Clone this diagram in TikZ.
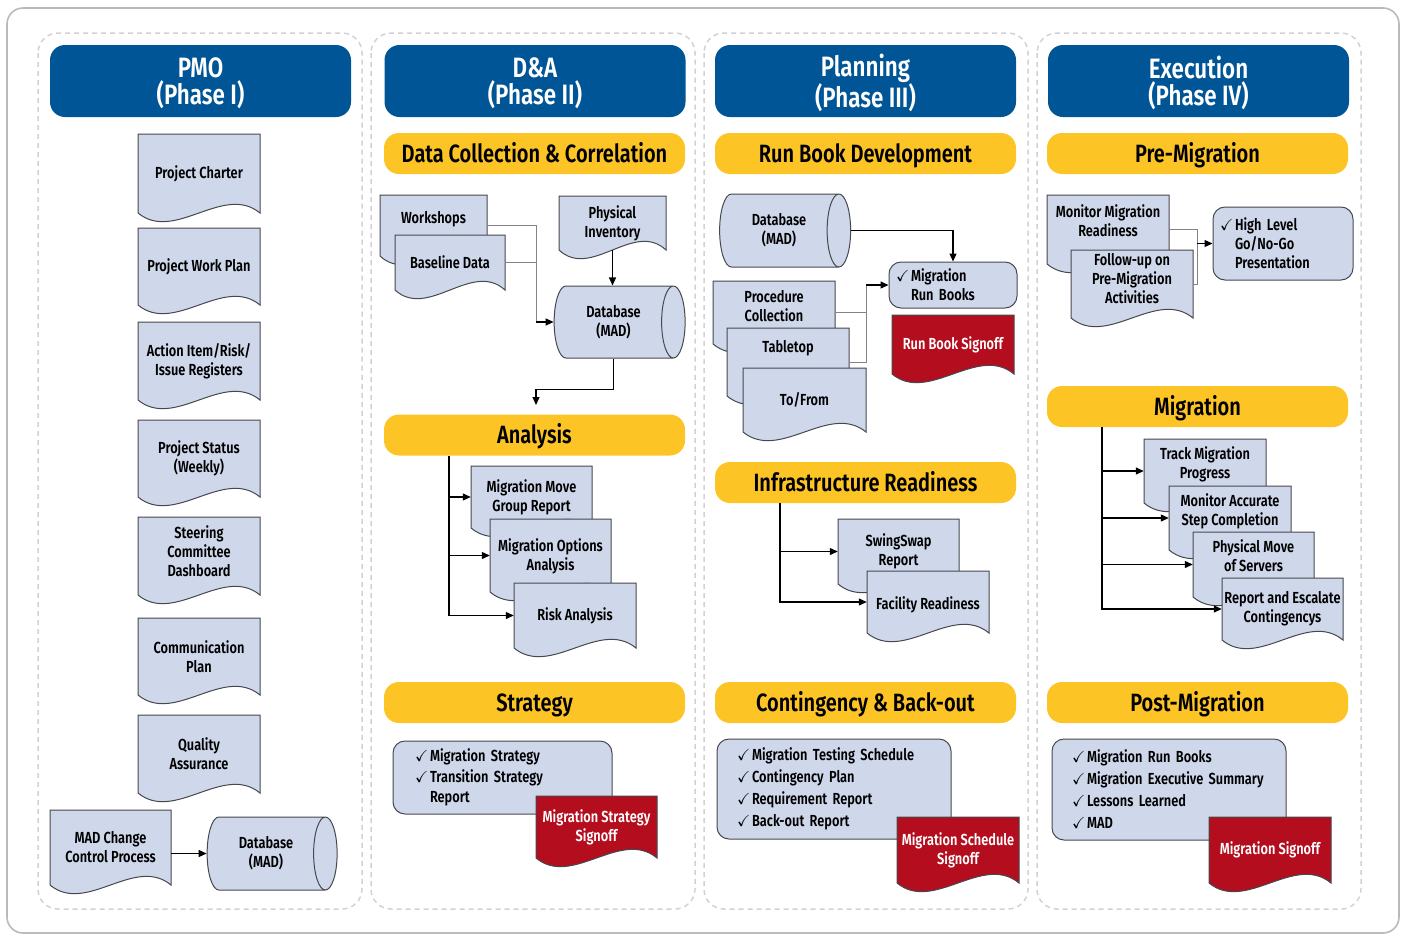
\documentclass[tikz,border=0pt]{standalone}
\usepackage{amssymb}
\usepackage{fontspec}
\setmainfont{Fira Sans SemiBold}[FakeStretch=0.8]
\usetikzlibrary{shapes.geometric, arrows.meta, positioning}

\definecolor{pmoblue}{RGB}{0,85,150}
\definecolor{baryellow}{RGB}{253,196,38}
\definecolor{docfill}{RGB}{207,216,234}
\definecolor{docline}{RGB}{70,72,80}
\definecolor{signred}{RGB}{180,14,30}
\definecolor{framegray}{RGB}{185,185,192}
\definecolor{dashgray}{RGB}{210,210,214}
\definecolor{feedgray}{RGB}{130,130,136}

\newcommand{\docfnt}{\fontsize{16}{19}\selectfont}
\newcommand{\listfnt}{\fontsize{16}{22}\selectfont}
\newcommand{\headfnt}{\fontsize{28}{27}\selectfont}
\newcommand{\barfnt}{\fontsize{25}{28}\selectfont}
\newcommand{\ck}{\makebox[15pt][l]{$\checkmark$}}
\newcommand{\ckgap}{\hspace*{15pt}}
\newcommand{\lift}[2]{\raisebox{#1}[\height][\depth]{\begin{tabular}{@{}c@{}}#2\end{tabular}}}

% page with a wavy bottom: style, name, x1, y1, x2, y2, text
\newcommand{\docshape}[7][docpage]{%
	\path[#1] (#3,#4) -- (#5,#4) -- (#5,#6)
		.. controls ({#5-0.3*(#5-#3)},{#6-30}) and ({#3+0.3*(#5-#3)},{#6+30}) .. (#3,#6) -- cycle;
	\node[#1 text, minimum width={(#5-#3)*1pt}, minimum height={(#6-#4)*1pt}] (#2) at ({(#3+#5)/2},{(#4+#6)/2}) {#7};
}

\begin{document}
\begin{tikzpicture}[x=1pt,y=-1pt,
		>={Triangle[length=8pt,width=7pt]},
		outerframe/.style={draw=framegray, line width=1.6pt, rounded corners=16pt},
		phasebox/.style={draw=dashgray, line width=1.5pt, dash pattern=on 5pt off 4pt, rounded corners=20pt},
		phasehead/.style={fill=pmoblue, rounded corners=15pt, text=white, align=center, font=\headfnt,
			minimum width=301pt, minimum height=72pt, inner sep=0pt, text depth=0pt},
		stagebar/.style={fill=baryellow, rounded corners=15pt, align=center, font=\barfnt,
			minimum width=301pt, minimum height=41pt, inner sep=0pt, text height=17.5pt, text depth=0pt},
		docpage/.style={fill=docfill, draw=docline, line width=1pt},
		docpage text/.style={inner sep=0pt, align=center, font=\docfnt},
		signpage/.style={fill=signred, draw=docline, line width=1pt},
		signpage text/.style={inner sep=0pt, align=center, font=\docfnt, text=white},
		checkbox/.style={fill=docfill, draw=docline, line width=1pt, rounded corners=12pt,
			align=left, font=\listfnt, inner ysep=0pt},
		database/.style={cylinder, shape aspect=0.7, draw=docline, fill=docfill, line width=1pt,
			font=\docfnt, align=center, inner sep=0pt},
		flowline/.style={draw=black, line width=1.2pt},
		feedline/.style={draw=feedgray, line width=1pt}]
	\useasboundingbox (0,0) rectangle (1405,935);
	\draw[outerframe] (7,8) rectangle (1399,933);
	\draw[phasebox] (38,33) rectangle (362,909);
	\draw[phasebox] (371,33) rectangle (695,909);
	\draw[phasebox] (704,33) rectangle (1028,909);
	\draw[phasebox] (1037,33) rectangle (1361,909);

	\node[phasehead] (pmo) at (200.5,81) {PMO\\(Phase I)};
	\node[phasehead] (da) at (535,81) {D\&A\\(Phase II)};
	\node[phasehead] (plan) at (865.5,81) {Planning\\(Phase III)};
	\node[phasehead] (exec) at (1198.5,81) {Execution\\(Phase IV)};

	% PMO
	\docshape{charter}{138}{134}{260}{213}{Project Charter}
	\docshape{workplan}{138}{228}{260}{305}{Project Work Plan}
	\docshape{registers}{138}{322}{260}{400}{Action Item/Risk/\\Issue Registers}
	\docshape{status}{138}{420}{260}{497}{Project Status\\(Weekly)}
	\docshape{steering}{138}{517}{260}{595}{\lift{2pt}{Steering\\Committee\\Dashboard}}
	\docshape{commplan}{138}{618}{260}{695}{Communication\\Plan}
	\docshape{quality}{138}{715}{260}{793}{Quality\\Assurance}
	\docshape{madchange}{50}{810}{171}{885}{MAD Change\\Control Process}
	\node[database, minimum width=73pt, minimum height=130pt] (pmodb) at (266,853.5) {Database\\(MAD)};
	\draw[flowline,->] (madchange.east |- pmodb.west) -- (pmodb.west);

	% D&A
	\node[stagebar] (collect) at (534.5,153.5) {Data Collection \& Correlation};
	\docshape{workshops}{380}{195}{487}{256}{\lift{6pt}{Workshops}}
	\docshape{baseline}{395}{235}{505}{290}{Baseline Data}
	\docshape{inventory}{559}{196}{666}{250}{Physical\\Inventory}
	\node[database, minimum width=72pt, minimum height=131pt] (dadb) at (613.5,322) {Database\\(MAD)};
	\coordinate (dajoin) at (536,322);
	\coordinate (datail) at (536,405);
	\draw[feedline] (workshops.east) -| (dajoin);
	\draw[feedline] (baseline.east) -| (dajoin);
	\draw[flowline,->] (dajoin) -- (dadb.west);
	\draw[flowline,->] (inventory.south) -- (inventory.south |- dadb.north);
	\draw[flowline,->] (dadb.south) -- ++(0,31) -| (datail);

	\node[stagebar] (analysis) at (534.5,435) {Analysis};
	\docshape{movegroup}{471}{466}{592}{528}{Migration Move\\Group Report}
	\docshape{options}{490}{519}{611}{592}{\lift{-2pt}{Migration Options\\Analysis}}
	\docshape{risk}{514}{583}{636}{648}{Risk Analysis}
	\coordinate (antop) at (449,456);
	\draw[flowline,->] (antop) |- (movegroup.west);
	\draw[flowline,->] (antop) |- (options.west);
	\draw[flowline,->] (antop) |- (risk.west);

	\node[stagebar] (strategy) at (534.5,702.5) {Strategy};
	\node[checkbox, text width=175pt, inner xsep=22pt, minimum height=73pt, font=\fontsize{16}{20.5}\selectfont] (stratlist) at (502.5,777.5)
		{\ck Migration Strategy\\\ck Transition Strategy\\\ckgap Report};
	\docshape[signpage]{stratsign}{536}{796}{657}{858}{Migration Strategy\\Signoff}

	% Planning
	\node[stagebar] (runbook) at (865.5,153.5) {Run Book Development};
	\node[database, minimum width=73pt, minimum height=131pt] (pldb) at (779,230.5) {Database\\(MAD)};
	\node[checkbox, text width=114pt, inner xsep=7pt, minimum height=46pt, font=\docfnt] (runbooks) at (953,285)
		{\ck Migration\\\ckgap Run Books};
	\docshape{procedure}{713}{281}{835}{344}{\lift{4pt}{Procedure\\Collection}}
	\docshape{tabletop}{727}{328}{849}{396}{\lift{13pt}{Tabletop}}
	\docshape{tofrom}{743}{368}{866}{432}{To/From}
	\docshape[signpage]{rbsign}{892}{315}{1014}{374}{Run Book Signoff}
	\coordinate (pljoin) at (866,285);
	\draw[flowline,->] (pldb.east) -| (runbooks.north);
	\draw[feedline] (procedure.east) -| (pljoin);
	\draw[feedline] (tabletop.east) -| (pljoin);
	\draw[flowline,->] (pljoin) -- (runbooks.west);

	\node[stagebar] (infra) at (865.5,482.5) {Infrastructure Readiness};
	\docshape{swingswap}{838}{519}{959}{584}{SwingSwap\\Report}
	\docshape{facility}{867}{571}{989}{633}{\lift{-4pt}{Facility Readiness}}
	\coordinate (intop) at (780,503);
	\draw[flowline,->] (intop) |- (swingswap.west);
	\draw[flowline,->] (intop) |- (facility.west);

	\node[stagebar] (backout) at (865.5,702.5) {Contingency \& Back-out};
	\node[checkbox, text width=194pt, inner xsep=20pt, minimum height=100pt] (contlist) at (834,789)
		{\ck Migration Testing Schedule\\\ck Contingency Plan\\\ck Requirement Report\\\ck Back-out Report};
	\docshape[signpage]{schedsign}{897}{817}{1019}{883}{Migration Schedule\\Signoff}

	% Execution
	\node[stagebar] (premig) at (1197.5,153.5) {Pre-Migration};
	\docshape{readiness}{1047}{195}{1169}{264}{\lift{6pt}{Monitor Migration\\Readiness}}
	\docshape{followup}{1071}{250}{1193}{318}{\lift{3pt}{Follow-up on\\Pre-Migration\\Activities}}
	\node[checkbox, text width=126pt, inner xsep=7pt, minimum height=73pt, font=\docfnt] (gonogo) at (1283,243.5)
		{\ck High Level\\\ckgap Go/No-Go\\\ckgap Presentation};
	\coordinate (exjoin) at (1197,243.5);
	\draw[feedline] (readiness.east) -| (exjoin);
	\draw[feedline] (followup.east) -| (exjoin);
	\draw[flowline,->] (exjoin) -- (gonogo.west);

	\node[stagebar] (migration) at (1197.5,406.5) {Migration};
	\docshape{track}{1144}{439}{1266}{503}{\lift{6pt}{Track Migration\\Progress}}
	\docshape{accurate}{1169}{486}{1291}{550}{\lift{6pt}{Monitor Accurate\\Step Completion}}
	\docshape{servers}{1193}{532}{1314}{597}{\lift{6pt}{Physical Move\\of Servers}}
	\docshape{escalate}{1222}{578}{1343}{640}{Report and Escalate\\Contingencys}
	\coordinate (mitop) at (1102,427);
	\draw[flowline,->] (mitop) |- (track.west);
	\draw[flowline,->] (mitop) |- (accurate.west);
	\draw[flowline,->] (mitop) |- (servers.west);
	\draw[flowline,->] (mitop) |- (escalate.west);

	\node[stagebar] (postmig) at (1197.5,702.5) {Post-Migration};
	\node[checkbox, text width=194pt, inner xsep=20pt, minimum height=101pt] (postlist) at (1169,789.5)
		{\ck Migration Run Books\\\ck Migration Executive Summary\\\ck Lessons Learned\\\ck MAD};
	\docshape[signpage]{migsign}{1209}{817}{1331}{883}{Migration Signoff}
\end{tikzpicture}
\end{document}
